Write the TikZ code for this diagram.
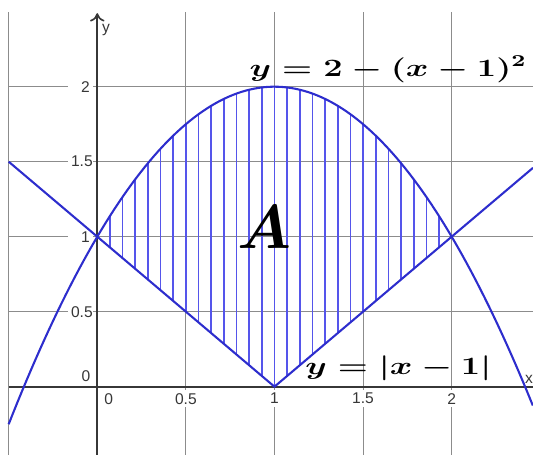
\documentclass[tikz,border=0pt]{standalone}
\usepackage{amsmath}
\usepackage{fontspec}
\newfontfamily\ticksf{Liberation Sans}
\usepackage{tikz}
\usetikzlibrary{arrows.meta}
\definecolor{curveblue}{RGB}{45,45,205}
\definecolor{hatchblue}{RGB}{85,85,235}
\definecolor{gridgray}{RGB}{140,140,140}
\definecolor{axisgray}{RGB}{55,55,55}

\begin{document}
\begin{tikzpicture}[x=3cm, y=2.5395cm,
        gridline/.style={draw=gridgray, line width=0.5pt},
        axis/.style={draw=axisgray, line width=0.8pt},
        curve/.style={draw=curveblue, line width=1pt},
        hatch/.style={draw=hatchblue, line width=0.8pt},
        ticklabel/.style={fill=white, inner sep=1.5pt, text=axisgray, font=\ticksf\fontsize{7.5}{8}\selectfont},
        ytick/.style={ticklabel, anchor=east, text width=9pt, align=right},
        xtick/.style={ticklabel, anchor=north},
        eqlabel/.style={anchor=base, font=\fontsize{12}{14}\selectfont}]

    \useasboundingbox (-0.549,-0.455) rectangle (2.459,2.578);

    % Grid
    \foreach \gx in {-0.5,0.5,1,1.5,2}
        \draw[gridline] (\gx,-0.455) -- (\gx,2.5);
    \foreach \gy in {0.5,1,1.5,2}
        \draw[gridline] (-0.5,\gy) -- (2.459,\gy);

    % Tick labels
    \foreach \t [count=\i] in {0.5,1,1.5,2} {
        \node[ytick] (ylab\i) at (-0.0226,\t) {\t};
        \node[xtick] (xlab\i) at (\t,-0.02) {\t};
    }
    \node[ticklabel, anchor=south east, fill=none] (yzero) at (-0.02,0.01) {0};
    \node[ticklabel, anchor=north west] (xzero) at (0.02,-0.02) {0};

    % Axes
    \draw[axis] (-0.5,0) -- (2.459,0);
    \draw[axis, -{To[length=4pt,width=7pt]}] (0,-0.455) -- (0,2.49);
    \node[ticklabel, fill=none] (xname) at (2.436,0.05) {x};
    \node[ticklabel, fill=none] (yname) at (0.05,2.378) {y};

    % Hatching of A
    \foreach \k in {1,...,27} {
        \pgfmathsetmacro\hx{\k/14}
        \draw[hatch] (\hx,{abs(\hx-1)}) -- (\hx,{2-(\hx-1)*(\hx-1)});
    }

    % Curves
    \draw[curve, domain=-0.5:2.459, samples=120] plot (\x,{2-(\x-1)*(\x-1)});
    \draw[curve] (-0.5,1.5) -- (1,0) -- (2.459,1.459);

    % Labels
    \node[eqlabel] (parab) at (1.642,2.071) {\scalebox{1.38}[1]{\boldmath$y=2-(x-1)^2$}};
    \node[eqlabel] (absval) at (1.699,0.078) {\scalebox{1.38}[1]{\boldmath$y=|x-1|$}};
    \node[font=\Huge] (area) at (0.941,1.065) {\scalebox{1.2}{\boldmath$A$}};

\end{tikzpicture}
\end{document}
